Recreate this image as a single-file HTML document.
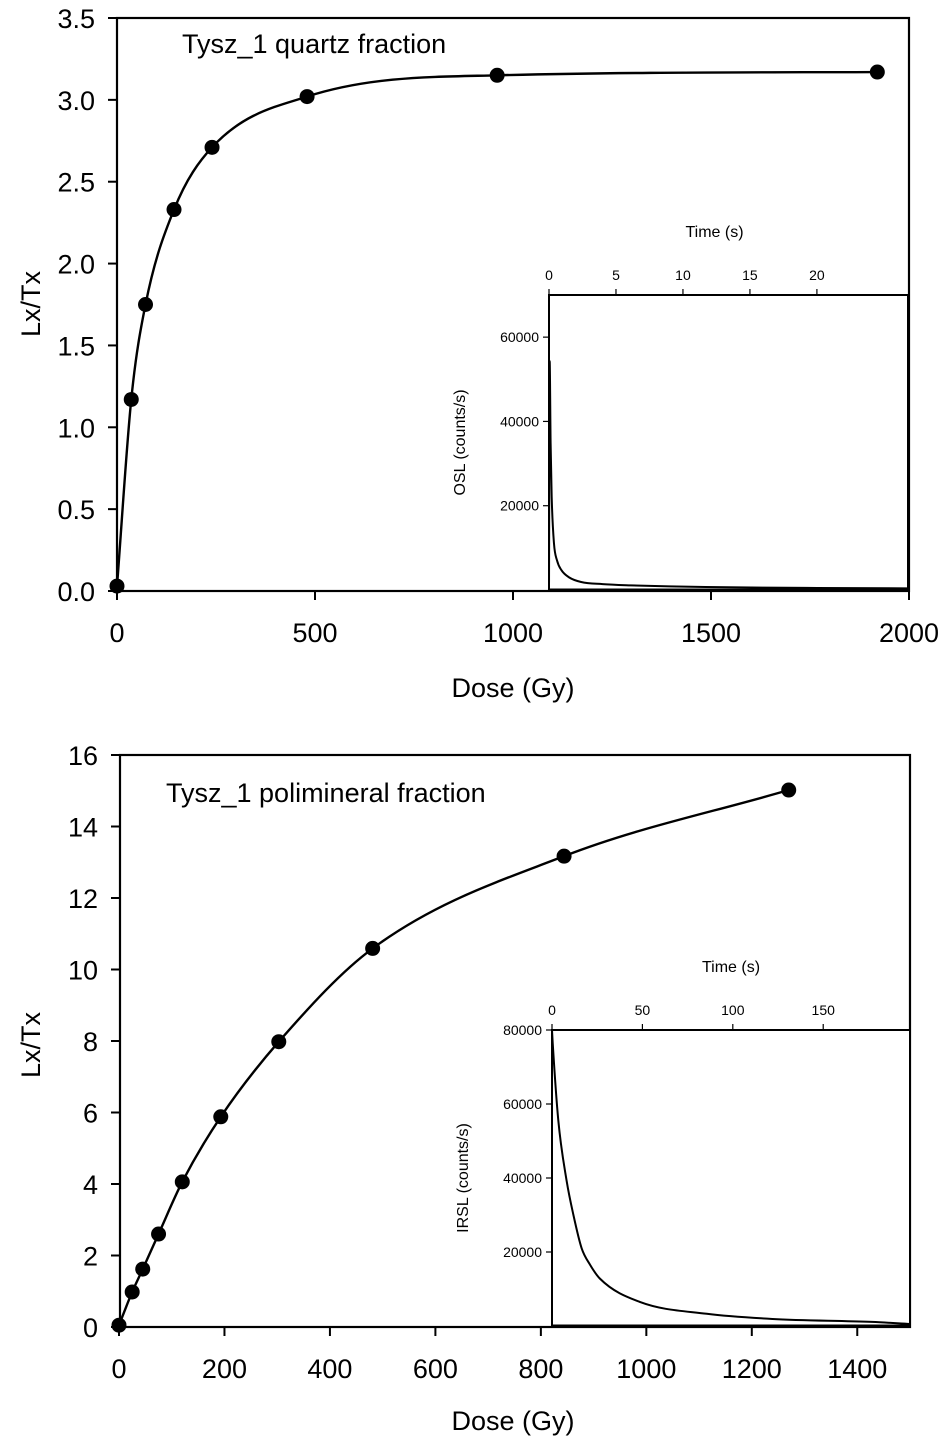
<!DOCTYPE html>
<html><head><meta charset="utf-8">
<style>
html,body{margin:0;padding:0;background:#fff;}
svg{display:block;font-family:"Liberation Sans",Arial,sans-serif;}
</style></head>
<body>
<svg id="fig" width="949" height="1442" viewBox="0 0 949 1442" xmlns="http://www.w3.org/2000/svg"></svg>
<script>
// Top chart (quartz)
const topDose = [0, 36, 72, 144, 240, 480, 960, 1920];
const topLxTx = [0.03, 1.17, 1.75, 2.33, 2.71, 3.02, 3.15, 3.17];
const topXTicks = [0, 500, 1000, 1500, 2000];
const topYTicks = [0.0, 0.5, 1.0, 1.5, 2.0, 2.5, 3.0, 3.5];
// OSL inset
const oslTime = [0, 0.05, 0.12, 0.2, 0.37, 0.6, 0.93, 1.5, 2.4, 4, 6.1, 9, 11.7, 16, 20, 26.8];
const oslCounts = [0, 54300, 34900, 22100, 11100, 7000, 4700, 3000, 1900, 1400, 1100, 850, 700, 550, 480, 400];
const oslTimeTicks = [0, 5, 10, 15, 20];
const oslYTicks = [20000, 40000, 60000];
// Bottom chart (polimineral)
const botDose = [0, 25, 45, 75, 120, 193, 303, 481, 844, 1270];
const botLxTx = [0.05, 0.98, 1.62, 2.6, 4.06, 5.88, 7.98, 10.59, 13.17, 15.02];
const botXTicks = [0, 200, 400, 600, 800, 1000, 1200, 1400];
const botYTicks = [0, 2, 4, 6, 8, 10, 12, 14, 16];
// IRSL inset
const irslTime = [0, 0.4, 3.5, 8.1, 11.8, 16.4, 21, 26.5, 48.6, 85.6, 122, 177, 198];
const irslCounts = [80000, 76400, 55500, 39200, 30100, 21000, 16600, 12800, 6500, 3300, 1900, 1100, 550];
const irslTimeTicks = [0, 50, 100, 150];
const irslYTicks = [20000, 40000, 60000, 80000];

const NS = "http://www.w3.org/2000/svg";
const svg = document.getElementById('fig');
function el(tag, attrs, parent, text){
  const e = document.createElementNS(NS, tag);
  for (const k in attrs) e.setAttribute(k, attrs[k]);
  if (text !== undefined) e.textContent = text;
  (parent || svg).appendChild(e);
  return e;
}
function lin(d0,d1,r0,r1){return v=>r0+(v-d0)*(r1-r0)/(d1-d0);}
function smoothPath(pts){
  const n=pts.length, dx=[], dy=[], m=[], t=[];
  for(let i=0;i<n-1;i++){dx[i]=pts[i+1][0]-pts[i][0];dy[i]=pts[i+1][1]-pts[i][1];m[i]=dx[i]===0?0:dy[i]/dx[i];}
  t[0]=m[0];t[n-1]=m[n-2];
  for(let i=1;i<n-1;i++){t[i]=(m[i-1]*m[i]<=0)?0:(m[i-1]+m[i])/2;}
  for(let i=0;i<n-1;i++){
    if(m[i]===0){t[i]=0;t[i+1]=0;continue;}
    const a=t[i]/m[i], b=t[i+1]/m[i], s=a*a+b*b;
    if(s>9){const k=3/Math.sqrt(s);t[i]=k*a*m[i];t[i+1]=k*b*m[i];}
  }
  let d=`M${pts[0][0]},${pts[0][1]}`;
  for(let i=0;i<n-1;i++){
    const h=dx[i]/3;
    d+=` C${pts[i][0]+h},${pts[i][1]+t[i]*h} ${pts[i+1][0]-h},${pts[i+1][1]-t[i+1]*h} ${pts[i+1][0]},${pts[i+1][1]}`;
  }
  return d;
}

function mainChart(o){
  const g = el('g', {});
  
  
  const X=lin(o.xd[0],o.xd[1],o.x0,o.x1), Y=lin(o.yd[0],o.yd[1],o.y0,o.y1);
  const frame = el('rect',{x:o.fx,y:o.y1,width:o.x1-o.fx,height:o.y0-o.y1,fill:'none',stroke:'#000','stroke-width':2.2},g);
  
  
  o.xt.forEach(v=>{
    const x=X(v);
    const tk=el('line',{x1:x,x2:x,y1:o.y0,y2:o.y0+9,stroke:'#000','stroke-width':2},g);
    
    
    const tl=el('text',{x:x,y:o.y0+51,'text-anchor':'middle','font-size':27},g,String(v));
    
    
  });
  o.yt.forEach(v=>{
    const y=Y(v);
    const tk=el('line',{x1:o.fx-9,x2:o.fx,y1:y,y2:y,stroke:'#000','stroke-width':2},g);
    
    
    const tl=el('text',{x:o.fx-22,y:y+10,'text-anchor':'end','font-size':27},g,o.yfmt(v));
    
    
  });
  const xt=el('text',{x:o.xtx,y:o.xty,'text-anchor':'middle','font-size':27},g,'Dose (Gy)');
  
  
  const yt=el('text',{x:0,y:0,'text-anchor':'middle','font-size':27,transform:`translate(${o.ytx},${o.yty}) rotate(-90)`},g,'Lx/Tx');
  
  
  const ti=el('text',{x:o.tx,y:o.ty,'font-size':27},g,o.title);
  
  
  const pts=o.xs.map((v,i)=>[X(v),Y(o.ys[i])]);
  const cv=el('path',{d:smoothPath(pts),fill:'none',stroke:'#000','stroke-width':2.4},g);
  
  
  pts.forEach(p=>{
    const c=el('circle',{cx:p[0],cy:p[1],r:7.5,fill:'#000'},g);
    
    
  });
}
function inset(o){
  const g = el('g', {});
  
  
  const X=lin(0,o.tmax,o.x0,o.x1), Y=lin(0,o.ymax,o.y0,o.y1);
  const r=el('rect',{x:o.x0,y:o.y1,width:o.x1-o.x0,height:o.y0-o.y1,fill:'#fff',stroke:'#000','stroke-width':2},g);
  
  
  const bl=el('line',{x1:o.x0,x2:o.x1,y1:o.y0,y2:o.y0,stroke:'#000','stroke-width':3},g);
  
  
  o.tt.forEach(v=>{
    const x=X(v);
    const tk=el('line',{x1:x,x2:x,y1:o.y1-6,y2:o.y1,stroke:'#000','stroke-width':1.2},g);
    
    
    const tl=el('text',{x:x,y:o.y1-15,'text-anchor':'middle','font-size':14},g,String(v));
    
    
  });
  o.yt.forEach(v=>{
    const y=Y(v);
    const tk=el('line',{x1:o.x0-6,x2:o.x0,y1:y,y2:y,stroke:'#000','stroke-width':1.2},g);
    
    
    const tl=el('text',{x:o.x0-10,y:y+5,'text-anchor':'end','font-size':14},g,String(v));
    
    
  });
  const tt=el('text',{x:(o.x0+o.x1)/2+o.ttdx,y:o.y1-58,'text-anchor':'middle','font-size':16},g,'Time (s)');
  
  
  const yt=el('text',{x:0,y:0,'text-anchor':'middle','font-size':16,transform:`translate(${o.x0-84},${(o.y0+o.y1)/2+ o.ytdy}) rotate(-90)`},g,o.ylabel);
  
  
  const pts=o.ts.map((v,i)=>[X(v),Y(o.cs[i])]);
  const p=el('path',{d:smoothPath(pts),fill:'none',stroke:'#000','stroke-width':2},g);
  
  
}

mainChart({name:'quartz-chart',fx:117,x0:117,x1:909,y0:591,y1:18,xd:[0,2000],yd:[0,3.5],
  xt:topXTicks,yt:topYTicks,yfmt:v=>v.toFixed(1),xs:topDose,ys:topLxTx,
  xtx:513,xty:697,ytx:40,yty:304,tx:182,ty:53,title:'Tysz_1 quartz fraction'});
inset({name:'osl-inset',x0:549,x1:908,y0:590,y1:295,tmax:26.8,ymax:70000,
  tt:oslTimeTicks,yt:oslYTicks,ts:oslTime,cs:oslCounts,ylabel:'OSL (counts/s)',ttdx:-14,ytdy:0});
mainChart({name:'polimineral-chart',fx:120,x0:119,x1:910,y0:1327,y1:755,xd:[0,1500],yd:[0,16],
  xt:botXTicks,yt:botYTicks,yfmt:v=>String(v),xs:botDose,ys:botLxTx,
  xtx:513,xty:1430,ytx:40,yty:1045,tx:166,ty:802,title:'Tysz_1 polimineral fraction'});
inset({name:'irsl-inset',x0:552,x1:910,y0:1326,y1:1030,tmax:198,ymax:80000,
  tt:irslTimeTicks,yt:irslYTicks,ts:irslTime,cs:irslCounts,ylabel:'IRSL (counts/s)',ttdx:0,ytdy:0});
</script>
</body></html>
